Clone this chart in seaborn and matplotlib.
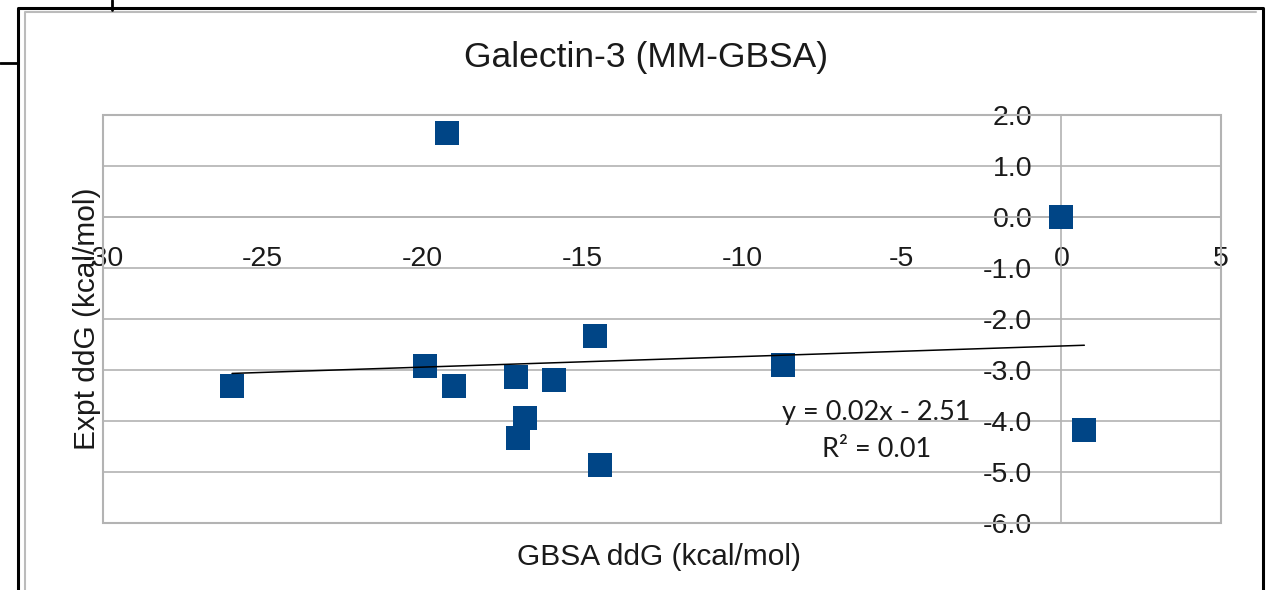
import seaborn as sns
import pandas as pd
import matplotlib.pyplot as plt
from matplotlib.patches import Rectangle
from matplotlib.lines import Line2D

# values
gbsa_ddg = [-19.24, 0.0, -25.96, -19.93, -19.0, -17.08, -15.88, -14.61,
            -16.79, -17.01, -14.45, -8.72, 0.72]
expt_ddg = [1.65, 0.0, -3.31, -2.92, -3.31, -3.14, -3.20, -2.33,
            -3.95, -4.33, -4.86, -2.90, -4.18]
x_ticks = [-30, -25, -20, -15, -10, -5, 0, 5]
y_ticks = [2.0, 1.0, 0.0, -1.0, -2.0, -3.0, -4.0, -5.0, -6.0]

df = pd.DataFrame({"GBSA": gbsa_ddg, "Expt": expt_ddg})

sns.set_style("white")
plt.rcParams['font.family'] = ['Liberation Sans', 'DejaVu Sans']

fig = plt.figure(figsize=(12.73, 5.90), dpi=100)
ax = fig.add_axes([0.0809, 0.1136, 0.8783, 0.6915])

grid_col = '#b3b3b3'
for yv in y_ticks:
    ax.axhline(yv, color=grid_col, lw=1.2, zorder=0)

sns.regplot(data=df, x="GBSA", y="Expt", ax=ax, ci=None, truncate=True,
            marker='s', color='#004586',
            scatter_kws={'s': 320, 'linewidths': 0, 'alpha': 1, 'zorder': 3},
            line_kws={'color': 'black', 'lw': 1.1, 'zorder': 4})

ax.set_xlim(-30, 5)
ax.set_ylim(-6, 2)
ax.set_xticks(x_ticks)
ax.set_xticklabels([str(v) for v in x_ticks])
ax.set_yticks(y_ticks)
ax.set_yticklabels([f"{v:.1f}" for v in y_ticks])

# axes cross at zero, like the spreadsheet chart
ax.spines['left'].set_position(('data', 0))
ax.spines['bottom'].set_position(('data', 0))
for s in ['left', 'bottom']:
    ax.spines[s].set_color(grid_col)
    ax.spines[s].set_linewidth(1.2)
for s in ['top', 'right']:
    ax.spines[s].set_visible(False)
ax.add_patch(Rectangle((0, 0), 1, 1, transform=ax.transAxes, fill=False,
                       edgecolor=grid_col, lw=1.5, clip_on=False, zorder=1))

ax.tick_params(axis='x', direction='out', length=7, width=1, color=grid_col,
               pad=14, labelsize=20.5, labelcolor='#1a1a1a')
ax.tick_params(axis='y', length=0, pad=21, labelsize=20.5, labelcolor='#1a1a1a')

ax.set_xlabel("GBSA ddG (kcal/mol)", fontsize=21.5, color='#1a1a1a')
ax.set_ylabel("Expt ddG (kcal/mol)", fontsize=21.5, color='#1a1a1a')
ax.xaxis.set_label_coords(0.497, -0.083)
ax.xaxis.label.set_va('center')
ax.yaxis.set_label_coords(-0.014, 0.5)
ax.yaxis.label.set_va('center')
ax.set_title("Galectin-3 (MM-GBSA)", fontsize=25.5, color='#1a1a1a',
             x=0.486, y=1.142, va='center', pad=0)

ax.text(-5.79, -3.84, "y = 0.02x - 2.51", fontsize=19.5, family='Lato',
        ha='center', va='center', color='#1a1a1a', zorder=5)
ax.text(-5.79, -4.55, "R² = 0.01", fontsize=19.5, family='Lato',
        ha='center', va='center', color='#1a1a1a', zorder=5)

# chart frame from the screenshot
fig.add_artist(Line2D([18/1273, 18/1273, 1263/1273, 1263/1273],
                      [0, 1 - 8/590, 1 - 8/590, 0], color='black', lw=2.2))
fig.add_artist(Line2D([25/1273, 25/1273, 1256/1273],
                      [0, 1 - 12/590, 1 - 12/590], color='#bbbbbb', lw=1.5))
fig.add_artist(Line2D([0, 18/1273], [1 - 63/590, 1 - 63/590], color='black', lw=2))
fig.add_artist(Line2D([112/1273, 112/1273], [1, 1 - 10/590], color='black', lw=2))

plt.savefig("out.png", dpi=100)
